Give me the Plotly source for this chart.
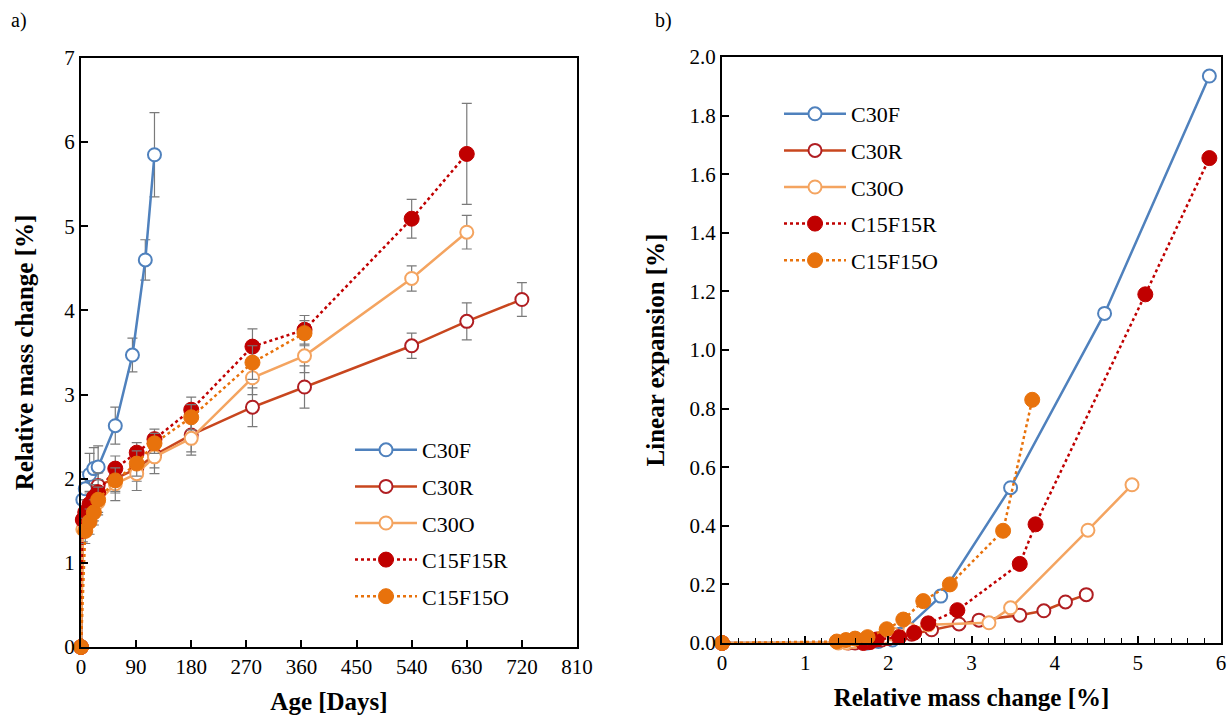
import plotly.graph_objects as go

# ---------------- data: panel a) relative mass change vs age ----------------
C30F_days = [0, 3, 7, 14, 21, 28, 56, 84, 105, 120]
C30F_mass = [0, 1.75, 1.88, 2.05, 2.12, 2.14, 2.63, 3.47, 4.60, 5.85]
C30F_err = [0, 0.2, 0.2, 0.25, 0.25, 0.25, 0.22, 0.2, 0.24, 0.5]

C30R_days = [0, 3, 7, 14, 21, 28, 56, 91, 120, 180, 280, 365, 540, 630, 720]
C30R_mass = [0, 1.52, 1.6, 1.68, 1.78, 1.92, 2.0, 2.12, 2.28, 2.52, 2.85, 3.09, 3.58, 3.87, 4.13]
C30R_err = [0, 0.15, 0.15, 0.15, 0.15, 0.15, 0.15, 0.15, 0.15, 0.2, 0.23, 0.25, 0.15, 0.22, 0.2]

C30O_days = [0, 3, 7, 14, 21, 28, 56, 91, 120, 180, 280, 365, 540, 630]
C30O_mass = [0, 1.4, 1.5, 1.58, 1.65, 1.72, 1.94, 2.06, 2.26, 2.48, 3.2, 3.46, 4.38, 4.93]
C30O_err = [0, 0.15, 0.15, 0.15, 0.15, 0.15, 0.2, 0.2, 0.2, 0.2, 0.2, 0.2, 0.15, 0.2]

C15F15R_days = [0, 3, 7, 14, 21, 28, 56, 91, 120, 180, 280, 365, 540, 630]
C15F15R_mass = [0, 1.51, 1.6, 1.7, 1.78, 1.84, 2.12, 2.31, 2.47, 2.82, 3.57, 3.77, 5.09, 5.86]
C15F15R_err = [0, 0.15, 0.15, 0.15, 0.15, 0.15, 0.15, 0.12, 0.12, 0.15, 0.21, 0.17, 0.23, 0.6]

C15F15O_days = [0, 7, 14, 21, 28, 56, 91, 120, 180, 280, 365]
C15F15O_mass = [0, 1.38, 1.49, 1.6, 1.75, 1.98, 2.18, 2.42, 2.73, 3.38, 3.73]
C15F15O_err = [0, 0.15, 0.15, 0.15, 0.15, 0.15, 0.15, 0.12, 0.15, 0.2, 0.15]

# ---------------- data: panel b) linear expansion vs relative mass change ----------------
C30F_x = [0, 1.75, 1.88, 2.05, 2.12, 2.14, 2.63, 3.47, 4.60, 5.86]
C30F_y = [0, 0, 0.005, 0.01, 0.02, 0.03, 0.16, 0.53, 1.125, 1.935]

C30R_x = [0, 1.52, 1.6, 1.68, 1.78, 1.92, 2.0, 2.12, 2.28, 2.52, 2.85, 3.09, 3.58, 3.87, 4.13, 4.38]
C30R_y = [0, 0, 0, 0.003, 0.005, 0.01, 0.015, 0.02, 0.03, 0.045, 0.065, 0.078, 0.095, 0.11, 0.14, 0.165]

C30O_x = [0, 1.4, 1.5, 1.58, 1.65, 1.72, 1.94, 2.06, 2.26, 2.48, 3.21, 3.47, 4.40, 4.93]
C30O_y = [0, 0, 0, 0.005, 0.01, 0.01, 0.02, 0.03, 0.045, 0.062, 0.069, 0.12, 0.385, 0.54]

C15F15R_x = [0, 1.51, 1.6, 1.7, 1.78, 1.86, 2.13, 2.31, 2.48, 2.83, 3.58, 3.77, 5.09, 5.86]
C15F15R_y = [0, -0.005, -0.005, 0, 0.003, 0.012, 0.02, 0.035, 0.067, 0.112, 0.27, 0.405, 1.19, 1.655]

C15F15O_x = [0, 1.38, 1.49, 1.6, 1.75, 1.98, 2.18, 2.42, 2.74, 3.38, 3.73]
C15F15O_y = [0, 0.005, 0.01, 0.015, 0.02, 0.047, 0.08, 0.143, 0.2, 0.383, 0.83]

names = ["C30F", "C30R", "C30O", "C15F15R", "C15F15O"]
line_colors = ["#4F81BD", "#C8461E", "#F4A460", "#C00000", "#E8720C"]
marker_line = ["#4F81BD", "#B01E22", "#F4A460", "#C00000", "#E8720C"]
filled = [False, False, False, True, True]
dashes = ["solid", "solid", "solid", "dot", "dot"]

left_sets = [
    (C30F_days, C30F_mass, C30F_err),
    (C30R_days, C30R_mass, C30R_err),
    (C30O_days, C30O_mass, C30O_err),
    (C15F15R_days, C15F15R_mass, C15F15R_err),
    (C15F15O_days, C15F15O_mass, C15F15O_err),
]
right_sets = [
    (C30F_x, C30F_y),
    (C30R_x, C30R_y),
    (C30O_x, C30O_y),
    (C15F15R_x, C15F15R_y),
    (C15F15O_x, C15F15O_y),
]

FONT = "Liberation Serif, Times New Roman, DejaVu Serif, serif"

fig = go.Figure()

def marker_for(i):
    if filled[i]:
        return dict(symbol="circle", size=15, color=line_colors[i],
                    line=dict(color=line_colors[i], width=1))
    return dict(symbol="circle", size=13, color="white",
                line=dict(color=marker_line[i], width=2))

for i, (x, y, e) in enumerate(left_sets):
    fig.add_trace(go.Scatter(
        x=x, y=y, name=names[i], mode="lines+markers",
        line=dict(color=line_colors[i], width=2.5, dash=dashes[i]),
        marker=marker_for(i),
        error_y=dict(type="data", array=e, color="#7a7a7a", thickness=1.2, width=5),
        xaxis="x", yaxis="y", legend="legend",
        legendgroup="a" + names[i], cliponaxis=False,
    ))

for i, (x, y) in enumerate(right_sets):
    fig.add_trace(go.Scatter(
        x=x, y=y, name=names[i], mode="lines+markers",
        line=dict(color=line_colors[i], width=2.5, dash=dashes[i]),
        marker=marker_for(i),
        xaxis="x2", yaxis="y2", legend="legend2",
        legendgroup="b" + names[i], cliponaxis=False,
    ))

# body margin is removed by the post script, so the figure fills the window
OFF = 0
FW, FH = 1229, 720

def px(x):
    return (x - OFF) / FW

def py(y):
    return 1 - (y - OFF) / FH

axis_common = dict(
    showline=True, linecolor="black", linewidth=2, mirror=True,
    ticks="inside", ticklen=7, tickwidth=1.5, tickcolor="black",
    showgrid=False, zeroline=False, automargin=False,
    tickfont=dict(family=FONT, size=21, color="black"),
)
title_font = dict(family=FONT, size=25, color="black")
legend_font = dict(family=FONT, size=22, color="black")

fig.update_layout(
    width=FW, height=FH,
    margin=dict(l=0, r=0, t=0, b=0, autoexpand=False),
    paper_bgcolor="white", plot_bgcolor="white",
    font=dict(family=FONT, color="black"),
    xaxis=dict(domain=[px(81), px(577)], range=[0, 810], dtick=90, tick0=0,
               title=dict(text="<b>Age [Days]</b>", font=title_font, standoff=14),
               anchor="y", **axis_common),
    yaxis=dict(domain=[py(647), py(58)], range=[0, 7], dtick=1, tick0=0,
               title=dict(text="<b>Relative mass change [%]</b>", font=title_font, standoff=24),
               anchor="x", **axis_common),
    xaxis2=dict(domain=[px(722), px(1221)], range=[0, 6], dtick=1, tick0=0,
                minor=dict(dtick=0.2, ticks="inside", ticklen=5, tickwidth=1.2, tickcolor="black"),
                title=dict(text="<b>Relative mass change [%]</b>", font=title_font, standoff=14),
                anchor="y2", **axis_common),
    yaxis2=dict(domain=[py(643), py(57)], range=[0, 2.0], dtick=0.2, tick0=0,
                tickformat=".1f",
                title=dict(text="<b>Linear expansion [%]</b>", font=title_font, standoff=18),
                anchor="x2", **axis_common),
    legend=dict(x=px(350), y=py(429), xanchor="left", yanchor="top",
                font=legend_font, itemwidth=62, tracegroupgap=5,
                bgcolor="rgba(0,0,0,0)"),
    legend2=dict(x=px(779), y=py(93), xanchor="left", yanchor="top",
                 font=legend_font, itemwidth=62, tracegroupgap=5,
                 bgcolor="rgba(0,0,0,0)"),
    annotations=[
        dict(text="a)", x=px(9), y=py(20), xref="paper", yref="paper",
             xanchor="left", yanchor="middle", showarrow=False,
             font=dict(family=FONT, size=20, color="black")),
        dict(text="b)", x=px(653), y=py(20), xref="paper", yref="paper",
             xanchor="left", yanchor="middle", showarrow=False,
             font=dict(family=FONT, size=20, color="black")),
    ],
)

fig.write_html("out.html",
               config={"displayModeBar": False},
               post_script="document.body.style.margin='0';document.body.style.overflow='hidden';")
